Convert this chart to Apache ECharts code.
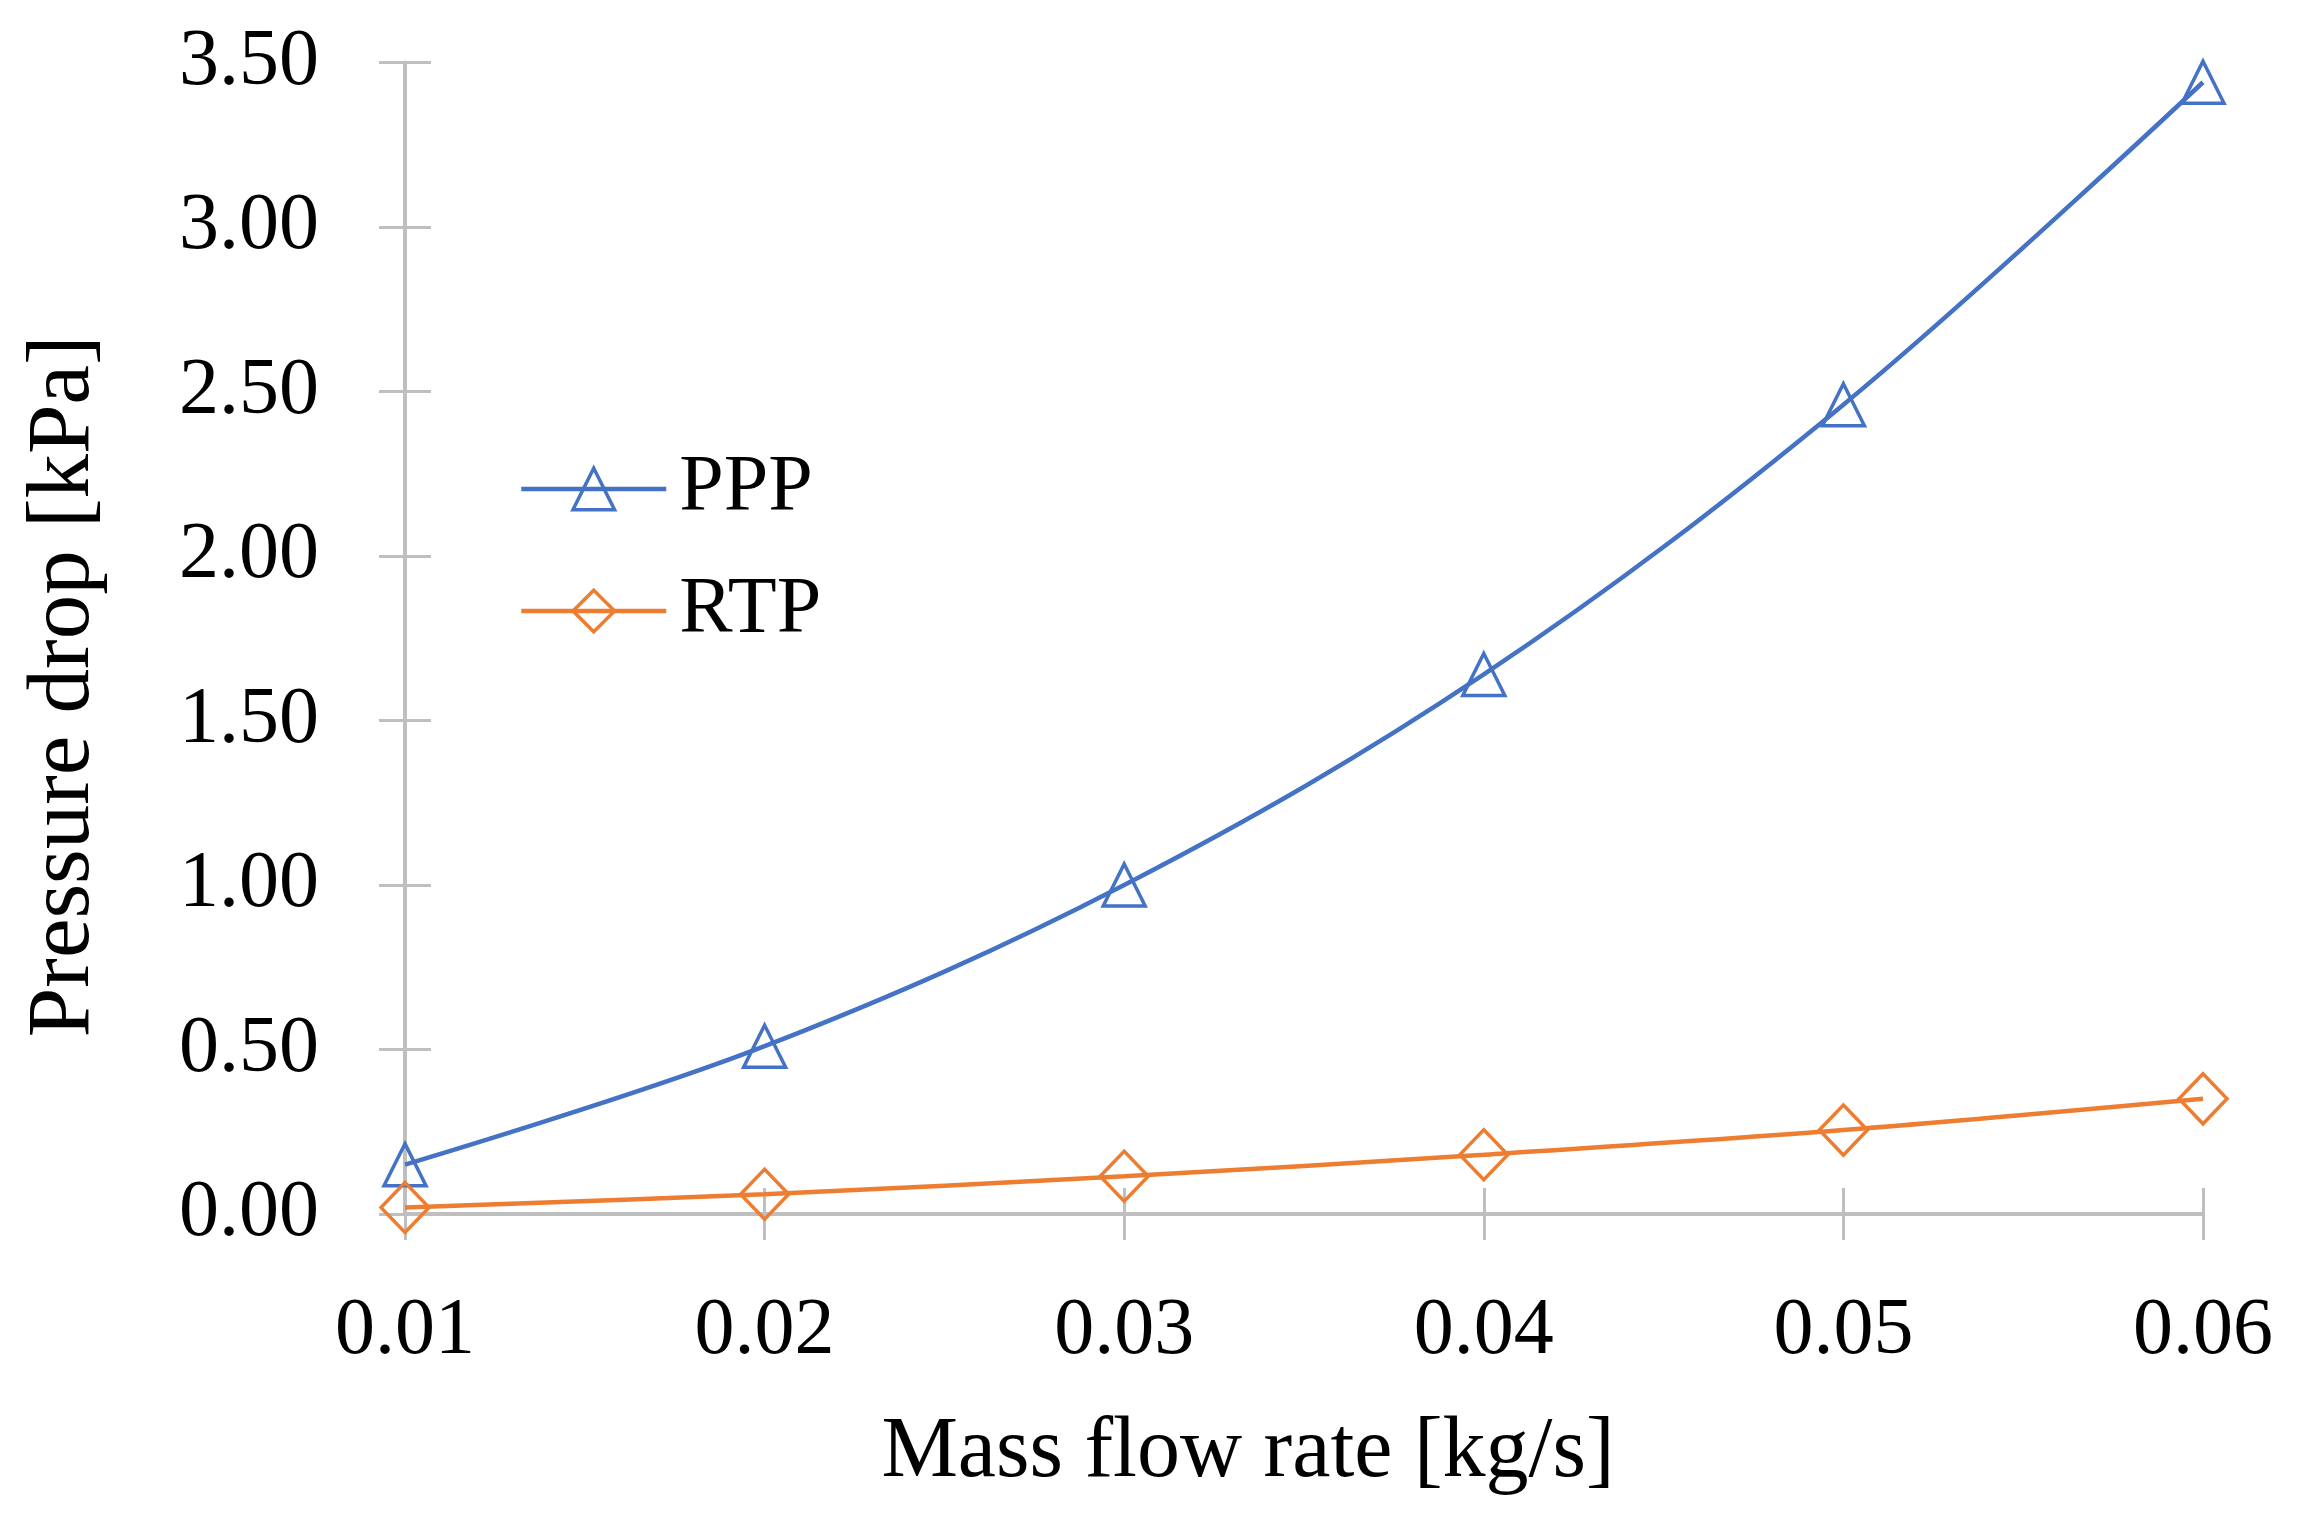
<!DOCTYPE html>
<html>
<head>
<meta charset="utf-8">
<script src="https://cdn.jsdelivr.net/npm/echarts@6/dist/echarts.min.js"></script>
<style>
html,body{margin:0;padding:0;background:#fff;}
#c{width:2299px;height:1521px;}
</style>
</head>
<body>
<div id="c"></div>
<script>
var massFlow = [0.01, 0.02, 0.03, 0.04, 0.05, 0.06];
var pppValues = [0.15, 0.51, 1.00, 1.64, 2.46, 3.44];
var rtpValues = [0.02, 0.06, 0.115, 0.18, 0.255, 0.35];
var seriesNames = ['PPP', 'RTP'];
var xTitle = 'Mass flow rate [kg/s]';
var yTitle = 'Pressure drop [kPa]';

var FONT = '"Liberation Serif", "DejaVu Serif", serif';
var GREY = '#bfbfbf';
var BLUE = '#4472c4';
var ORANGE = '#ed7d31';

function pairs(xs, ys) { return xs.map(function (x, i) { return [x, ys[i]]; }); }

var chart = echarts.init(document.getElementById('c'), null, {renderer: 'canvas'});
var xBase = {
  type: 'value', min: 0.01, max: 0.06, interval: 0.01,
  splitLine: {show: false}
};
var yBase = {
  type: 'value', min: 0, max: 3.5, interval: 0.5,
  splitLine: {show: false}
};
chart.setOption({
  backgroundColor: '#fff',
  animation: false,
  grid: {left: 405, right: 96, top: 62.5, bottom: 307, outerBoundsMode: 'none'},
  legend: {
    orient: 'vertical',
    left: 514, top: 444,
    itemWidth: 145, itemHeight: 52, itemGap: 42,
    data: seriesNames,
    lineStyle: {width: 4.5},
    itemStyle: {borderWidth: 3.5},
    textStyle: {fontFamily: FONT, fontSize: 80, color: '#000', padding: [0, 0, 0, 8]}
  },
  xAxis: [
    Object.assign({}, xBase, {
      position: 'bottom',
      name: xTitle, nameLocation: 'middle', nameGap: 196,
      nameTextStyle: {fontFamily: FONT, fontSize: 86, color: '#000', padding: [0, 112, 0, 0]},
      axisLine: {show: true, onZero: false, lineStyle: {color: GREY, width: 4}},
      axisTick: {show: true, length: 26, lineStyle: {color: GREY, width: 3}},
      axisLabel: {show: true, margin: 78, fontFamily: FONT, fontSize: 80, color: '#000',
        formatter: function (v) { return v.toFixed(2); }}
    }),
    Object.assign({}, xBase, {
      position: 'bottom',
      axisLine: {show: false},
      axisTick: {show: true, inside: true, length: 26, lineStyle: {color: GREY, width: 3}},
      axisLabel: {show: false}
    })
  ],
  yAxis: [
    Object.assign({}, yBase, {
      position: 'left',
      name: yTitle, nameLocation: 'middle', nameGap: 296,
      nameTextStyle: {fontFamily: FONT, fontSize: 89, color: '#000', padding: [0, 96, 0, 0]},
      axisLine: {show: true, lineStyle: {color: GREY, width: 4}},
      axisTick: {show: true, length: 26, lineStyle: {color: GREY, width: 3}},
      axisLabel: {show: true, margin: 86, fontFamily: FONT, fontSize: 80, color: '#000',
        formatter: function (v) { return v.toFixed(2); }}
    }),
    Object.assign({}, yBase, {
      position: 'left',
      axisLine: {show: false},
      axisTick: {show: true, inside: true, length: 26, lineStyle: {color: GREY, width: 3}},
      axisLabel: {show: false}
    })
  ],
  series: [
    {
      name: seriesNames[0], type: 'line', xAxisIndex: 0, yAxisIndex: 0,
      data: pairs(massFlow, pppValues),
      smooth: 0.35,
      symbol: 'triangle', symbolSize: [42, 42],
      lineStyle: {color: BLUE, width: 4.5},
      itemStyle: {color: 'rgba(255,255,255,0)', borderColor: BLUE, borderWidth: 3.5}
    },
    {
      name: seriesNames[1], type: 'line', xAxisIndex: 0, yAxisIndex: 0,
      data: pairs(massFlow, rtpValues),
      smooth: 0.35,
      symbol: 'diamond', symbolSize: [48, 50],
      lineStyle: {color: ORANGE, width: 4.5},
      itemStyle: {color: 'rgba(255,255,255,0)', borderColor: ORANGE, borderWidth: 3.5}
    }
  ]
});
</script>
</body>
</html>
